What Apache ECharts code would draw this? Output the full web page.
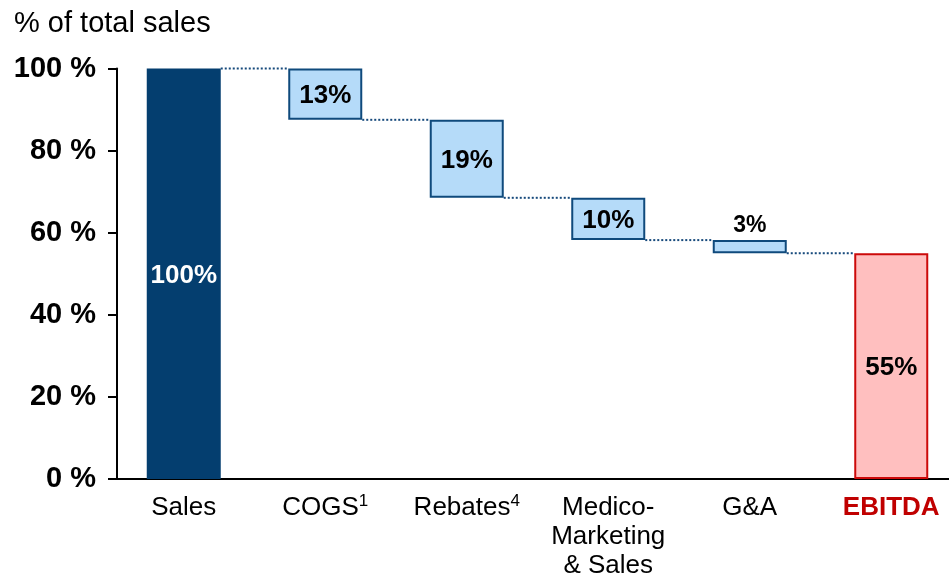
<!DOCTYPE html>
<html>
<head>
<meta charset="utf-8">
<script src="https://cdn.jsdelivr.net/npm/echarts@6/dist/echarts.min.js"></script>
<style>
html,body{margin:0;padding:0;background:#fff;}
#chart{width:949px;height:575px;}
</style>
</head>
<body>
<div id="chart"></div>
<script>
// ---- data ----
const categories = ['Sales', 'COGS', 'Rebates', 'Medico-\nMarketing\n& Sales', 'G&A', 'EBITDA'];
const footnotes = ['', '1', '4', '', '', ''];
const baseValues = [0, 87.5, 68.5, 58.2, 55.0, 0];
const barValues = [100, 12.5, 19.0, 10.3, 3.2, 55.0];
const valueLabels = ['100%', '13%', '19%', '10%', '3%', '55%'];
const connectorLevels = [100, 87.5, 68.5, 58.2, 55.0];
const yMin = 0, yMax = 100, yStep = 20;
const titleText = '% of total sales';

// ---- styles ----
const FONT = 'Arial, "Liberation Sans", sans-serif';
const BAR_W = 74;
const kinds = ['total', 'delta', 'delta', 'delta', 'delta', 'result'];
const styleFor = {
  total: { color: '#043E6F', borderColor: '#043E6F', borderWidth: 0 },
  delta: { color: '#B5DBF9', borderColor: '#0F4A7C', borderWidth: 2 },
  result: { color: '#FFBFBF', borderColor: '#CC0A0A', borderWidth: 2 }
};

const chart = echarts.init(document.getElementById('chart'), null, { renderer: 'canvas' });

const deltaData = barValues.map((v, i) => {
  const k = kinds[i];
  const lab = {
    show: true,
    formatter: valueLabels[i],
    fontFamily: FONT,
    fontWeight: 'bold',
    fontSize: 26,
    color: k === 'total' ? '#ffffff' : '#000000',
    position: 'inside',
    offset: [0, 2]
  };
  if (i === 4) { lab.position = 'top'; lab.fontSize = 23; lab.distance = 3; lab.offset = [0, 0]; }
  return { value: v, itemStyle: styleFor[k], label: lab };
});

const option = {
  animation: false,
  title: {
    text: titleText,
    left: 14, top: 9, padding: 0,
    textStyle: { fontFamily: FONT, fontSize: 29, fontWeight: 'normal', color: '#000' }
  },
  grid: { left: 113, top: 68.5, width: 849, height: 410.5, containLabel: false, outerBoundsMode: 'none' },
  xAxis: {
    type: 'category',
    data: categories,
    axisLine: { show: true, lineStyle: { color: '#000', width: 2 } },
    axisTick: { show: false },
    axisLabel: {
      interval: 0,
      margin: 14,
      fontFamily: FONT,
      fontSize: 26,
      lineHeight: 29,
      color: '#000',
      formatter: function (v, idx) {
        if (v === 'EBITDA') return '{r|' + v + '}';
        const fn = footnotes[idx];
        return fn ? v + '{s|' + fn + '}' : v;
      },
      rich: {
        r: { fontFamily: FONT, fontSize: 26, fontWeight: 'bold', color: '#C00000', lineHeight: 29 },
        s: { fontFamily: FONT, fontSize: 17, color: '#000', lineHeight: 19, verticalAlign: 'top' }
      }
    },
    splitLine: { show: false }
  },
  yAxis: {
    type: 'value',
    min: yMin, max: yMax, interval: yStep,
    offset: -4,
    axisLine: { show: true, lineStyle: { color: '#000', width: 2 } },
    axisTick: { show: true, length: 9, lineStyle: { color: '#000', width: 2 } },
    axisLabel: {
      margin: 21,
      fontFamily: FONT, fontSize: 29, fontWeight: 'bold', color: '#000',
      formatter: '{value} %'
    },
    splitLine: { show: false }
  },
  series: [
    {
      type: 'custom',
      z: 1,
      data: connectorLevels.map((v, i) => [i, v]),
      encode: { x: 0, y: 1 },
      renderItem: function (params, api) {
        const i = api.value(0);
        const lvl = api.value(1);
        const p1 = api.coord([i, lvl]);
        const p2 = api.coord([i + 1, lvl]);
        return {
          type: 'line',
          shape: { x1: p1[0] + BAR_W / 2, y1: p1[1], x2: p2[0] - BAR_W / 2, y2: p2[1] },
          style: { stroke: '#174A7C', lineWidth: 2, lineDash: [2, 2] }
        };
      }
    },
    {
      type: 'bar',
      stack: 'wf',
      barWidth: BAR_W,
      z: 2,
      itemStyle: { color: 'transparent' },
      emphasis: { disabled: true },
      data: baseValues
    },
    {
      type: 'bar',
      stack: 'wf',
      barWidth: BAR_W,
      z: 3,
      emphasis: { disabled: true },
      data: deltaData
    }
  ]
};
chart.setOption(option);
</script>
</body>
</html>
